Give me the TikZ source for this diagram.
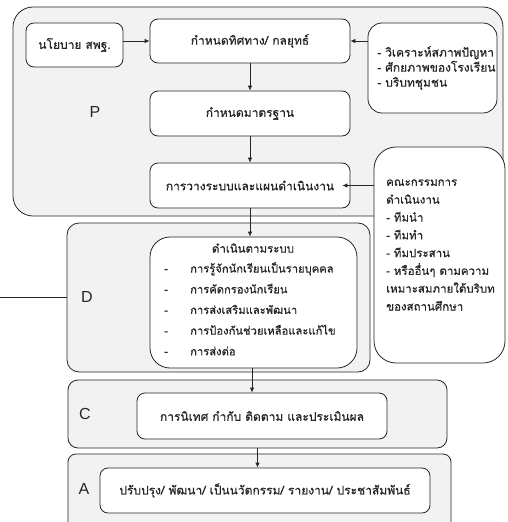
\documentclass[tikz,border=0pt]{standalone}
\usepackage{fontspec}
\setmainfont[Script=Thai,FakeBold=0.6]{Loma}
\newfontfamily\latinsans{Liberation Sans}
\usetikzlibrary{arrows.meta}
\definecolor{panel}{HTML}{F2F2F2}
\definecolor{ink}{HTML}{262626}
\begin{document}
\begin{tikzpicture}[x=1pt,y=-1pt,
  every node/.style={inner sep=0pt, text=ink},
  thaitext/.style={font=\fontsize{12}{15}\selectfont},
  outerbox/.style={draw=ink, line width=0.8pt, fill=panel},
  inbox/.style={draw=ink, line width=0.8pt, fill=white, rounded corners=8pt, thaitext},
  phase/.style={font=\latinsans\fontsize{16}{18}\selectfont},
  arr/.style={draw=ink, line width=0.8pt, -{Latex[length=5pt,width=4.5pt]}},
  plain/.style={draw=ink, line width=0.8pt}]
\useasboundingbox (0,0) rectangle (507,522);
\clip (0,0) rectangle (507,522);

% outer phase panels
\node[outerbox, rounded corners=20pt, minimum width=490pt, minimum height=209pt] (Pbox) at (258,111.5) {};
\node[outerbox, rounded corners=12pt, minimum width=303pt, minimum height=149pt] (Dbox) at (218.5,297.5) {};
\node[outerbox, rounded corners=10pt, minimum width=379pt, minimum height=68pt] (Cbox) at (257.5,414) {};
\node[outerbox, rounded corners=8pt, minimum width=383pt, minimum height=86pt] (Abox) at (259.5,497) {};

% phase labels
\node[phase] (Plab) at (95,112) {P};
\node[phase] (Dlab) at (87,297) {D};
\node[phase] (Clab) at (85,414) {C};
\node[phase] (Alab) at (84,489) {A};

% P nodes
\node[inbox, minimum width=97pt, minimum height=44pt] (nayo) at (74.5,45) {นโยบาย สพฐ.};
\node[inbox, minimum width=200pt, minimum height=44pt] (tid) at (250,41) {กำหนดทิศทาง/ กลยุทธ์};
\node[inbox, minimum width=200pt, minimum height=45pt] (std) at (250,113.5) {กำหนดมาตรฐาน};
\node[inbox, minimum width=200pt, minimum height=45pt] (plan) at (250,185.5) {การวางระบบและแผนดำเนินงาน};
\node[inbox, rounded corners=14pt, minimum width=129pt, minimum height=90pt] (ctx) at (432.5,68) {};
\node[thaitext, align=left, anchor=west] (ctxtext) at (377,68) {- วิเคราะห์สภาพปัญหา\\- ศักยภาพของโรงเรียน\\- บริบทชุมชน};

% committee
\node[inbox, rounded corners=22pt, minimum width=131pt, minimum height=216pt] (com) at (439.5,255) {};
\node[align=left, anchor=west, font=\fontsize{11.5}{17.8}\selectfont] (comtext) at (386,245) {คณะกรรมการ\\ดำเนินงาน\\- ทีมนำ\\- ทีมทำ\\- ทีมประสาน\\- หรืออื่นๆ ตามความ\\เหมาะสมภายใต้บริบท\\ของสถานศึกษา};

% D inner
\node[inbox, rounded corners=20pt, minimum width=207pt, minimum height=131pt] (Dinner) at (253.5,302.5) {};
\node[font=\fontsize{11.5}{15}\selectfont] (Dtitle) at (253,248) {ดำเนินตามระบบ};
\node[align=left, anchor=north west, font=\fontsize{11.2}{20.7}\selectfont] (Ditems) at (164,262) {%
\makebox[26pt][l]{-}การรู้จักนักเรียนเป็นรายบุคคล\\
\makebox[26pt][l]{-}การคัดกรองนักเรียน\\
\makebox[26pt][l]{-}การส่งเสริมและพัฒนา\\
\makebox[26pt][l]{-}การป้องกันช่วยเหลือและแก้ไข\\
\makebox[26pt][l]{-}การส่งต่อ};

% C and A inner
\node[inbox, minimum width=250pt, minimum height=46pt] (Cinner) at (262,416) {การนิเทศ กำกับ ติดตาม และประเมินผล};
\node[inbox, minimum width=330pt, minimum height=45pt] (Ainner) at (265,490.5) {ปรับปรุง/ พัฒนา/ เป็นนวัตกรรม/ รายงาน/ ประชาสัมพันธ์};

% connectors
\draw[arr] (nayo.east |- tid.west) -- (tid.west);
\draw[arr] (ctx.west |- tid.east) -- (tid.east);
\draw[arr] (tid.south) -- (std.north);
\draw[arr] (std.south) -- (plan.north);
\draw[arr] (com.west |- plan.east) -- ([xshift=-8pt]plan.east);
\draw[arr] (plan.south) -- (plan.south |- Dinner.north);
\draw[arr] ([xshift=-1.5pt]Dinner.south) -- ([xshift=-1.5pt]Dinner.south |- Cinner.north);
\draw[arr] (Cbox.south) -- (Cbox.south |- Ainner.north);
\coordinate (dstub) at (0,297.5);
\draw[plain] (dstub) -- (Dbox.west);
\end{tikzpicture}
\end{document}
